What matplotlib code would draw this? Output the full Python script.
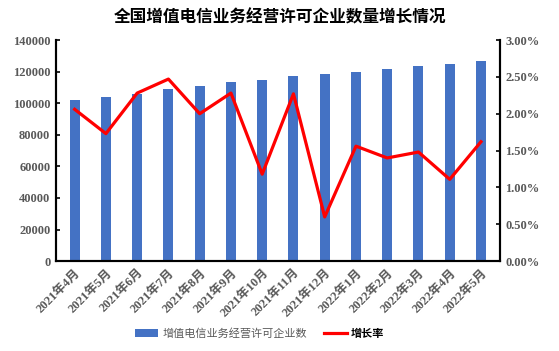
import numpy as np
import matplotlib
matplotlib.use("Agg")
import matplotlib.pyplot as plt
from matplotlib.ticker import FuncFormatter

# ---- data ----
months = ["2021年4月", "2021年5月", "2021年6月", "2021年7月", "2021年8月", "2021年9月",
          "2021年10月", "2021年11月", "2021年12月", "2022年1月", "2022年2月", "2022年3月",
          "2022年4月", "2022年5月"]
firms = [102000, 103700, 106100, 108700, 111200, 113500, 114600,
         117500, 118400, 119900, 121700, 123400, 125100, 127000]
growth = [2.06, 1.73, 2.28, 2.47, 2.00, 2.28, 1.18,
          2.27, 0.60, 1.56, 1.40, 1.48, 1.11, 1.62]

CJK = ["Noto Sans CJK SC", "DejaVu Sans"]
NUM = ["Liberation Serif", "Noto Sans CJK SC"]
GREY = "#595959"

fig = plt.figure(figsize=(5.59, 3.51), dpi=100)
ax = fig.add_axes([0.1, 0.256, 0.794, 0.63])
ax2 = ax.twinx()

x = np.arange(len(months))
ax.bar(x, firms, width=0.32, color="#4472C4", label="增值电信业务经营许可企业数", zorder=2)
ax2.plot(x, growth, color="#FF0000", lw=2.3, label="增长率", zorder=3)

ax.set_ylim(0, 140000)
ax.set_yticks(np.arange(0, 140001, 20000))
ax2.set_ylim(0, 3.0)
ax2.set_yticks(np.arange(0, 3.01, 0.5))
ax2.yaxis.set_major_formatter(FuncFormatter(lambda v, p: f"{v:.2f}%"))
ax.set_xlim(-0.6, len(months) - 0.4)

ax.set_xticks(x)
ax.set_xticklabels(months, rotation=45, ha="right", rotation_mode="anchor",
                   family=NUM, fontsize=9, fontweight="bold", color=GREY)
ax.tick_params(axis="x", length=0, pad=4)
for a in (ax, ax2):
    a.spines["top"].set_visible(False)
    for s in ("left", "right", "bottom"):
        a.spines[s].set_linewidth(1.5)
        a.spines[s].set_color("black")
    a.tick_params(axis="y", length=3, width=1.2, direction="in", pad=4)
    for lab in a.get_yticklabels():
        lab.set_family(NUM)
        lab.set_fontsize(9)
        lab.set_fontweight("bold")
        lab.set_color(GREY)

fig.suptitle("全国增值电信业务经营许可企业数量增长情况", family=CJK,
             fontsize=12, fontweight="bold", x=0.5, y=0.975)

h1, l1 = ax.get_legend_handles_labels()
h2, l2 = ax2.get_legend_handles_labels()
leg = fig.legend(h1 + h2, l1 + l2, loc="center", bbox_to_anchor=(0.465, 0.05),
                 ncol=2, frameon=False, prop={"family": CJK, "size": 8},
                 handlelength=2.0, handletextpad=0.4, columnspacing=1.6)
for t in leg.get_texts():
    t.set_color(GREY)
leg.get_texts()[1].set_fontweight("bold")
leg.get_texts()[1].set_color("black")

fig.savefig("out.png", dpi=100)
